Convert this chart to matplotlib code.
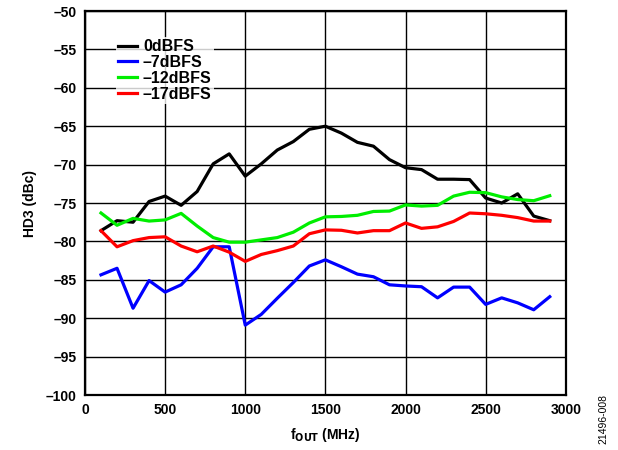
import matplotlib
matplotlib.use('Agg')
import matplotlib.pyplot as plt

plt.rcParams['font.family'] = ['Liberation Sans', 'DejaVu Sans']
plt.rcParams['font.weight'] = 'bold'

# 输出频率 (MHz)
freq = [100, 200, 300, 400, 500, 600, 700, 800, 900, 1000,
        1100, 1200, 1300, 1400, 1500, 1600, 1700, 1800, 1900, 2000,
        2100, 2200, 2300, 2400, 2500, 2600, 2700, 2800, 2900]

hd3_0 = [-78.6, -77.3, -77.5, -74.8, -74.1, -75.3, -73.5, -69.9, -68.6, -71.5,
         -69.9, -68.1, -67.0, -65.4, -65.0, -65.9, -67.1, -67.6, -69.35, -70.4,
         -70.65, -71.9, -71.9, -71.95, -74.35, -75.0, -73.8, -76.7, -77.3]
hd3_7 = [-84.35, -83.5, -88.7, -85.1, -86.6, -85.65, -83.5, -80.7, -80.7, -90.9,
         -89.5, -87.4, -85.35, -83.2, -82.4, -83.3, -84.26, -84.6, -85.65, -85.8,
         -85.9, -87.35, -85.95, -85.95, -88.2, -87.35, -88.0, -88.9, -87.2]
hd3_12 = [-76.3, -77.9, -77.0, -77.35, -77.2, -76.35, -78.0, -79.5, -80.1, -80.1,
          -79.8, -79.5, -78.8, -77.6, -76.8, -76.75, -76.6, -76.1, -76.05, -75.25,
          -75.4, -75.3, -74.1, -73.6, -73.65, -74.2, -74.55, -74.7, -74.05]
hd3_17 = [-78.6, -80.7, -79.9, -79.5, -79.4, -80.6, -81.35, -80.6, -81.4, -82.6,
          -81.7, -81.2, -80.6, -79.0, -78.5, -78.55, -78.9, -78.6, -78.6, -77.6,
          -78.3, -78.1, -77.4, -76.3, -76.4, -76.6, -76.9, -77.35, -77.35]

labels = ['0dBFS', '\u20137dBFS', '\u201312dBFS', '\u201317dBFS']
colors = ['#000000', '#0000ff', '#00ee00', '#ff0000']

x_ticks = [0, 500, 1000, 1500, 2000, 2500, 3000]
y_ticks = [-100, -95, -90, -85, -80, -75, -70, -65, -60, -55, -50]


def main():
    fig = plt.figure(figsize=(6.18, 4.5), dpi=100)
    ax = fig.add_axes([0.1375, 0.1222, 0.778, 0.8533])

    for series, lab, col in zip([hd3_0, hd3_7, hd3_12, hd3_17], labels, colors):
        ax.plot(freq, series, color=col, lw=2.3, label=lab)

    ax.set_xlim(0, 3000)
    ax.set_ylim(-100, -50)
    ax.set_xticks(x_ticks)
    ax.set_yticks(y_ticks)
    ax.set_yticklabels([str(v).replace('-', '\u2013') for v in y_ticks])
    ax.tick_params(length=0, labelsize=10, pad=6)
    for lbl in ax.get_xticklabels() + ax.get_yticklabels():
        lbl.set_fontweight('bold')
    ax.grid(True, color='black', lw=1.0)
    ax.set_axisbelow(True)
    for s in ax.spines.values():
        s.set_linewidth(1.6)

    ax.set_xlabel('f$_{\\mathbf{OUT}}$ (MHz)', fontsize=10, fontweight='bold', labelpad=6)
    ax.set_ylabel('HD3 (dBc)', fontsize=10, fontweight='bold', labelpad=6)

    leg = ax.legend(loc='upper left', bbox_to_anchor=(0.064, 0.933), frameon=True,
                    fancybox=False, handlelength=1.2, handletextpad=0.35,
                    labelspacing=0.05, borderpad=0.15, borderaxespad=0,
                    prop={'weight': 'bold', 'size': 11.5})
    leg.get_frame().set_edgecolor('white')
    leg.get_frame().set_linewidth(0)

    fig.text(0.985, 0.07, '21496-008', rotation=90, fontsize=7.5,
             fontweight='normal', ha='right', va='center')

    fig.savefig('out.png', dpi=100)


if __name__ == '__main__':
    main()
